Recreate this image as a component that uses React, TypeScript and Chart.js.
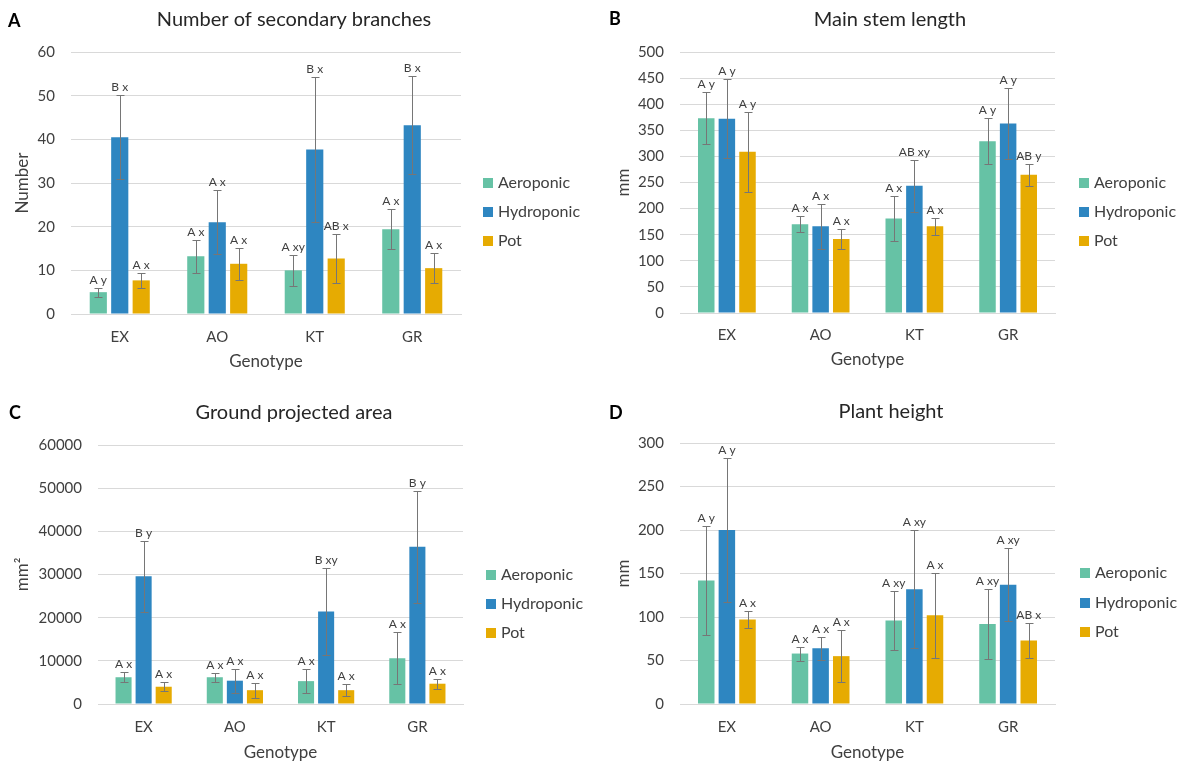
import React, { useEffect, useRef } from 'react';
import { Chart, registerables } from 'chart.js';

Chart.register(...registerables);

const FONT = 'Lato, "Open Sans", sans-serif';
const TEXT = '#404040';

const categories = ['EX', 'AO', 'KT', 'GR'];
const seriesNames = ['Aeroponic', 'Hydroponic', 'Pot'];
const seriesColors = ['#66c2a5', '#2e86c1', '#e6ab02'];
const xTitle = 'Genotype';

// A: Number of secondary branches
const branchesAero = [5.0, 13.2, 10.0, 19.4];
const branchesHydro = [40.5, 21.0, 37.7, 43.2];
const branchesPot = [7.7, 11.5, 12.7, 10.5];
const branchesAeroErr = [1.0, 3.8, 3.6, 4.6];
const branchesHydroErr = [9.6, 7.3, 16.6, 11.2];
const branchesPotErr = [1.7, 3.7, 5.7, 3.4];
const branchesAeroSig = ['A y', 'A x', 'A xy', 'A x'];
const branchesHydroSig = ['B x', 'A x', 'B x', 'B x'];
const branchesPotSig = ['A x', 'A x', 'AB x', 'A x'];
const branchesAxis = [0, 60, 10];

// B: Main stem length
const stemAero = [373, 170, 181, 329];
const stemHydro = [372, 166, 244, 363];
const stemPot = [309, 142, 166, 265];
const stemAeroErr = [50, 15, 43, 44];
const stemHydroErr = [76, 43, 50, 68];
const stemPotErr = [77, 19, 16, 21];
const stemAeroSig = ['A y', 'A x', 'A x', 'A y'];
const stemHydroSig = ['A y', 'A x', 'AB xy', 'A y'];
const stemPotSig = ['A y', 'A x', 'A x', 'AB y'];
const stemAxis = [0, 500, 50];

// C: Ground projected area
const areaAero = [6200, 6200, 5300, 10600];
const areaHydro = [29600, 5400, 21400, 36400];
const areaPot = [4000, 3200, 3200, 4700];
const areaAeroErr = [1200, 1000, 2800, 6000];
const areaHydroErr = [8200, 2800, 10000, 12900];
const areaPotErr = [1100, 1700, 1400, 1200];
const areaAeroSig = ['A x', 'A x', 'A x', 'A x'];
const areaHydroSig = ['B y', 'A x', 'B xy', 'B y'];
const areaPotSig = ['A x', 'A x', 'A x', 'A x'];
const areaAxis = [0, 60000, 10000];

// D: Plant height
const heightAero = [142, 58, 96, 92];
const heightHydro = [200, 64, 132, 137];
const heightPot = [97, 55, 102, 73];
const heightAeroErr = [63, 8, 34, 40];
const heightHydroErr = [83, 13, 68, 42];
const heightPotErr = [10, 30, 49, 20];
const heightAeroSig = ['A y', 'A x', 'A xy', 'A xy'];
const heightHydroSig = ['A y', 'A x', 'A xy', 'A xy'];
const heightPotSig = ['A x', 'A x', 'A x', 'AB x'];
const heightAxis = [0, 300, 50];

type PanelCfg = {
  letter: string;
  title: string;
  yTitle: string;
  values: number[][];
  errors: number[][];
  sig: string[][];
  axis: number[];
  left: number;
  top: number;
  width: number;
  height: number;
  area: { l: number; r: number; t: number; b: number };
  yTitleX: number;
  tickY: number;
  xTitleY: number;
  titleX: number;
  titleY: number;
  letterX: number;
  letterY: number;
  legendX: number;
  legendY: number[];
};

const panels: PanelCfg[] = [
  {
    letter: 'A', title: 'Number of secondary branches', yTitle: 'Number',
    values: [branchesAero, branchesHydro, branchesPot],
    errors: [branchesAeroErr, branchesHydroErr, branchesPotErr],
    sig: [branchesAeroSig, branchesHydroSig, branchesPotSig],
    axis: branchesAxis,
    left: 0, top: 0, width: 590, height: 380,
    area: { l: 71, r: 461, t: 52, b: 314 },
    yTitleX: 23, tickY: 337, xTitleY: 362,
    titleX: 294, titleY: 20, letterX: 8, letterY: 21,
    legendX: 483, legendY: [183, 212, 241],
  },
  {
    letter: 'B', title: 'Main stem length', yTitle: 'mm',
    values: [stemAero, stemHydro, stemPot],
    errors: [stemAeroErr, stemHydroErr, stemPotErr],
    sig: [stemAeroSig, stemHydroSig, stemPotSig],
    axis: stemAxis,
    left: 590, top: 0, width: 593, height: 380,
    area: { l: 90, r: 465, t: 52, b: 313 },
    yTitleX: 34, tickY: 335, xTitleY: 360,
    titleX: 300, titleY: 20, letterX: 19, letterY: 19,
    legendX: 489, legendY: [183, 212, 241],
  },
  {
    letter: 'C', title: 'Ground projected area', yTitle: 'mm²',
    values: [areaAero, areaHydro, areaPot],
    errors: [areaAeroErr, areaHydroErr, areaPotErr],
    sig: [areaAeroSig, areaHydroSig, areaPotSig],
    axis: areaAxis,
    left: 0, top: 380, width: 590, height: 381,
    area: { l: 98, r: 463, t: 65, b: 324 },
    yTitleX: 23, tickY: 347, xTitleY: 373,
    titleX: 294, titleY: 33, letterX: 9, letterY: 33,
    legendX: 486, legendY: [195, 224, 253],
  },
  {
    letter: 'D', title: 'Plant height', yTitle: 'mm',
    values: [heightAero, heightHydro, heightPot],
    errors: [heightAeroErr, heightHydroErr, heightPotErr],
    sig: [heightAeroSig, heightHydroSig, heightPotSig],
    axis: heightAxis,
    left: 590, top: 380, width: 593, height: 381,
    area: { l: 90, r: 465, t: 63, b: 324 },
    yTitleX: 34, tickY: 347, xTitleY: 373,
    titleX: 301, titleY: 32, letterX: 19, letterY: 33,
    legendX: 490, legendY: [193, 223, 252],
  },
];

function makeDecor(cfg: PanelCfg) {
  return {
    id: 'decor' + cfg.letter,
    afterDatasetsDraw(chart: any) {
      const ctx = chart.ctx;
      const ys = chart.scales.y;
      ctx.save();
      chart.data.datasets.forEach((ds: any, di: number) => {
        const meta = chart.getDatasetMeta(di);
        meta.data.forEach((bar: any, i: number) => {
          const v = ds.data[i];
          const e = cfg.errors[di][i];
          const top = Math.round(ys.getPixelForValue(v + e)) + 0.5;
          const bot = Math.round(ys.getPixelForValue(Math.max(v - e, ys.min))) + 0.5;
          const x = Math.round(bar.x) + 0.5;
          ctx.strokeStyle = '#767676';
          ctx.lineWidth = 1;
          ctx.beginPath();
          ctx.moveTo(x, top);
          ctx.lineTo(x, bot);
          ctx.moveTo(x - 4, top);
          ctx.lineTo(x + 4, top);
          ctx.moveTo(x - 4, bot);
          ctx.lineTo(x + 4, bot);
          ctx.stroke();
          ctx.fillStyle = TEXT;
          ctx.font = `12px ${FONT}`;
          ctx.textAlign = 'center';
          ctx.textBaseline = 'middle';
          ctx.fillText(cfg.sig[di][i], bar.x, top - 8);
        });
      });
      ctx.restore();
    },
    afterDraw(chart: any) {
      const ctx = chart.ctx;
      ctx.save();
      ctx.fillStyle = '#262626';
      ctx.font = `20px ${FONT}`;
      ctx.textAlign = 'center';
      ctx.textBaseline = 'middle';
      ctx.fillText(cfg.title, cfg.titleX, cfg.titleY);
      ctx.fillStyle = '#000';
      ctx.font = `bold 18px ${FONT}`;
      ctx.textAlign = 'left';
      ctx.fillText(cfg.letter, cfg.letterX, cfg.letterY);
      seriesNames.forEach((name, i) => {
        const y = cfg.legendY[i];
        ctx.fillStyle = seriesColors[i];
        ctx.fillRect(cfg.legendX, y - 5, 10, 10);
        ctx.fillStyle = TEXT;
        ctx.font = `16px ${FONT}`;
        ctx.textAlign = 'left';
        ctx.textBaseline = 'middle';
        ctx.fillText(name, cfg.legendX + 15, y);
      });
      ctx.restore();
    },
  };
}

function Panel({ cfg }: { cfg: PanelCfg }) {
  const ref = useRef<HTMLCanvasElement | null>(null);
  useEffect(() => {
    if (!ref.current) return;
    const a = cfg.area;
    const xScaleH = cfg.height - a.b;
    const chart = new Chart(ref.current, {
      type: 'bar',
      data: {
        labels: categories,
        datasets: seriesNames.map((name, i) => ({
          label: name,
          data: cfg.values[i],
          backgroundColor: seriesColors[i],
          borderWidth: 0,
          categoryPercentage: 0.66,
          barPercentage: 0.8,
        })),
      },
      options: {
        responsive: false,
        animation: false,
        devicePixelRatio: 1,
        layout: { padding: { left: 0, right: cfg.width - a.r, top: a.t, bottom: 0 } },
        plugins: {
          legend: { display: false },
          title: { display: false },
          tooltip: { enabled: false },
        },
        scales: {
          x: {
            grid: { display: false, drawTicks: false },
            border: { display: true, color: '#d9d9d9' },
            ticks: {
              color: TEXT,
              font: { family: FONT, size: 15 },
              padding: cfg.tickY - a.b - 9,
            },
            title: {
              display: true,
              text: xTitle,
              color: TEXT,
              font: { family: FONT, size: 17, lineHeight: 1 },
              padding: { top: 0, bottom: cfg.height - cfg.xTitleY - 8.5 },
            },
            afterFit: (s: any) => { s.height = xScaleH; },
          },
          y: {
            min: cfg.axis[0],
            max: cfg.axis[1],
            grid: { color: '#d9d9d9', drawTicks: false },
            border: { display: false },
            ticks: {
              stepSize: cfg.axis[2],
              color: TEXT,
              font: { family: FONT, size: 15 },
              padding: 16,
              callback: (v: any) => String(v),
            },
            title: {
              display: true,
              text: cfg.yTitle,
              color: TEXT,
              font: { family: FONT, size: 17, lineHeight: 1 },
              padding: { top: cfg.yTitleX - 8.5, bottom: 0 },
            },
            afterFit: (s: any) => { s.width = a.l; },
          },
        },
      },
      plugins: [makeDecor(cfg)],
    } as any);
    return () => chart.destroy();
  }, [cfg]);
  return (
    <canvas
      ref={ref}
      width={cfg.width}
      height={cfg.height}
      style={{ position: 'absolute', left: cfg.left, top: cfg.top, width: cfg.width, height: cfg.height }}
    />
  );
}

export default function App() {
  return (
    <div style={{ position: 'absolute', left: 0, top: 0, width: 1183, height: 761, overflow: 'hidden', background: '#fff' }}>
      {panels.map((p) => (
        <Panel key={p.letter} cfg={p} />
      ))}
    </div>
  );
}
